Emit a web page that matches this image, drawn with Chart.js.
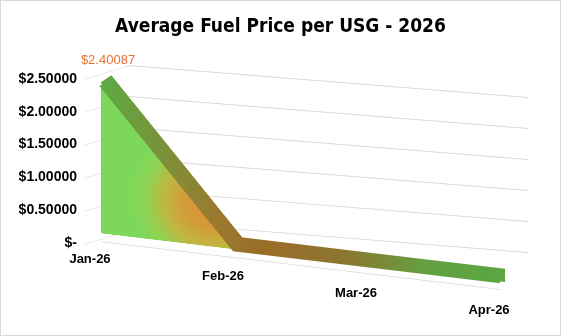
<!DOCTYPE html>
<html>
<head>
<meta charset="utf-8">
<title>Average Fuel Price per USG - 2026</title>
<script src="https://cdn.jsdelivr.net/npm/chart.js@4/dist/chart.umd.min.js"></script>
<style>
  html, body { margin: 0; padding: 0; background: #fff; }
  #wrap { width: 561px; height: 336px; box-sizing: border-box; border: 1px solid #d9d9d9; position: relative; }
</style>
</head>
<body>
<div id="wrap"><canvas id="fuelChart"></canvas></div>
<script>
// data
const months = ['Jan-26', 'Feb-26', 'Mar-26', 'Apr-26'];
const avgPrice = [2.40087, 0, 0, 0];
const yTicks = [0, 0.5, 1, 1.5, 2, 2.5];

// fake the excel 3d look: shear + squash everything drawn inside the plot
const K = 0.94;
const tilt = (ctx, area, s, dx, dy) => {
    ctx.translate(dx, dy);
    ctx.transform(1, s, 0, K, 0, area.top * (1 - K) - s * area.left);
};

// labels step down the floor like the perspective x axis
const xLabels = months.map((m, i) => [...Array(i).fill(''), m]);

const perspective = {
    id: 'perspective',
    beforeDraw(chart) {
        const y = chart.scales.y;
        if (!y._wrapped) {
            const origGrid = y.drawGrid;
            y._wrapped = true;
            y.drawGrid = function (...args) {
                const ctx = this.ctx;
                const area = this.chart.chartArea;
                const w = area.right - area.left;
                // back wall
                ctx.save();
                tilt(ctx, area, 0.08, 28, -13);
                origGrid.apply(this, args);
                ctx.restore();
                // little side wall stubs next to the tick labels
                ctx.save();
                ctx.translate(area.left - 17, 1);
                ctx.transform(46 / w, -14 / w, 0, 1, -area.left * 46 / w, area.left * 14 / w);
                origGrid.apply(this, args);
                ctx.restore();
            };
        }
        const x = chart.scales.x;
        if (!x._wrapped) {
            const origBorder = x.drawBorder;
            x._wrapped = true;
            x.drawBorder = function (...args) {
                this.ctx.save();
                tilt(this.ctx, this.chart.chartArea, 0.12, 0, 8);
                origBorder.apply(this, args);
                this.ctx.restore();
            };
        }
    },
    beforeDatasetsDraw(chart) {
        chart.ctx.save();
        tilt(chart.ctx, chart.chartArea, 0.12, 0, 0);
    },
    beforeDatasetDraw(chart, args) {
        if (args.index === 1) {
            chart.ctx.save();
            chart.ctx.translate(5, -7);
        }
    },
    afterDatasetDraw(chart, args) {
        if (args.index === 1) chart.ctx.restore();
    },
    afterDatasetsDraw(chart) {
        const ctx = chart.ctx;
        ctx.restore();
        const pt = chart.getDatasetMeta(0).data[0];
        const area = chart.chartArea;
        const y = area.top + K * (pt.y - area.top);
        ctx.save();
        ctx.fillStyle = '#e97132';
        ctx.font = '13px "Liberation Sans", Arial, sans-serif';
        ctx.textAlign = 'center';
        ctx.textBaseline = 'middle';
        ctx.fillText('$' + avgPrice[0].toFixed(5), pt.x + 7, y - 25);
        ctx.restore();
    }
};

function frontFill(context) {
    const chart = context.chart;
    const { ctx, chartArea, scales } = chart;
    if (!chartArea) return '#7dd85a';
    const x0 = scales.x.getPixelForValue(0), x1 = scales.x.getPixelForValue(1);
    const y0 = scales.y.getPixelForValue(avgPrice[0]), y1 = scales.y.getPixelForValue(avgPrice[1]);
    const cx = x0 + (x1 - x0) * 0.72 + 12;
    const cy = y0 + (y1 - y0) * 0.72;
    const g = ctx.createRadialGradient(cx, cy, 0, cx, cy, 78);
    g.addColorStop(0, '#d8903a');
    g.addColorStop(0.3, '#d49a38');
    g.addColorStop(0.55, '#c2b440');
    g.addColorStop(0.8, '#90d252');
    g.addColorStop(1, '#7dd85a');
    return g;
}

function bandColor(context) {
    const chart = context.chart;
    const { ctx, chartArea } = chart;
    if (!chartArea) return '#8a7a30';
    const g = ctx.createLinearGradient(chartArea.left, 0, chartArea.right, 0);
    g.addColorStop(0, '#5fa844');
    g.addColorStop(0.12, '#75953a');
    g.addColorStop(0.28, '#9a7a2e');
    g.addColorStop(0.4, '#9a6c28');
    g.addColorStop(0.6, '#8c7630');
    g.addColorStop(0.8, '#64a040');
    g.addColorStop(1, '#5aa643');
    return g;
}

document.addEventListener('DOMContentLoaded', () => {
    const ctx = document.getElementById('fuelChart').getContext('2d');

    new Chart(ctx, {
        type: 'line',
        data: {
            labels: xLabels,
            datasets: [{
                label: 'Average Fuel Price',
                data: avgPrice,
                fill: 'origin',
                backgroundColor: frontFill,
                borderColor: bandColor,
                borderWidth: 4,
                pointRadius: 0,
                tension: 0,
                clip: false,
                order: 1
            }, {
                label: 'ribbon',
                data: avgPrice,
                fill: false,
                borderColor: bandColor,
                borderWidth: 14,
                borderJoinStyle: 'miter',
                borderCapStyle: 'butt',
                pointRadius: 0,
                tension: 0,
                clip: false,
                order: 2
            }]
        },
        options: {
            responsive: true,
            maintainAspectRatio: false,
            animation: false,
            layout: { padding: { top: 5, left: 18, right: 18, bottom: 8 } },
            scales: {
                x: {
                    offset: false,
                    grid: { display: false, drawTicks: false },
                    border: { display: true, color: '#d9d9d9', width: 1 },
                    ticks: {
                        autoSkip: false,
                        maxRotation: 0,
                        padding: 8,
                        labelOffset: -11,
                        color: '#000',
                        font: { family: '"Liberation Sans", Arial, sans-serif', size: 13, weight: 'bold', lineHeight: 1.3 }
                    }
                },
                y: {
                    min: 0,
                    max: 2.5,
                    afterBuildTicks: scale => { scale.ticks = yTicks.map(v => ({ value: v })); },
                    afterFit: scale => { scale.width = 82; },
                    grid: { color: '#d9d9d9', lineWidth: 1, drawTicks: false },
                    border: { display: false },
                    ticks: {
                        padding: 24,
                        color: '#000',
                        font: { family: '"Liberation Sans", Arial, sans-serif', size: 14, weight: 'bold' },
                        callback: v => v === 0 ? '$-' : '$' + Number(v).toFixed(5)
                    }
                },
                // empty right axis, only keeps the plot clear of the right edge
                yRight: {
                    position: 'right',
                    min: 0,
                    max: 2.5,
                    afterFit: scale => { scale.width = 42; },
                    grid: { display: false, drawTicks: false },
                    border: { display: false },
                    ticks: { display: false }
                }
            },
            plugins: {
                title: {
                    display: true,
                    text: 'Average Fuel Price per USG - 2026',
                    color: '#000',
                    font: { family: '"Liberation Sans Narrow", "DejaVu Sans Condensed", sans-serif', size: 19, weight: 'bold', lineHeight: 1.2 },
                    padding: { top: 10, bottom: 40 }
                },
                legend: { display: false },
                tooltip: { enabled: false }
            }
        },
        plugins: [perspective]
    });
});
</script>
</body>
</html>
